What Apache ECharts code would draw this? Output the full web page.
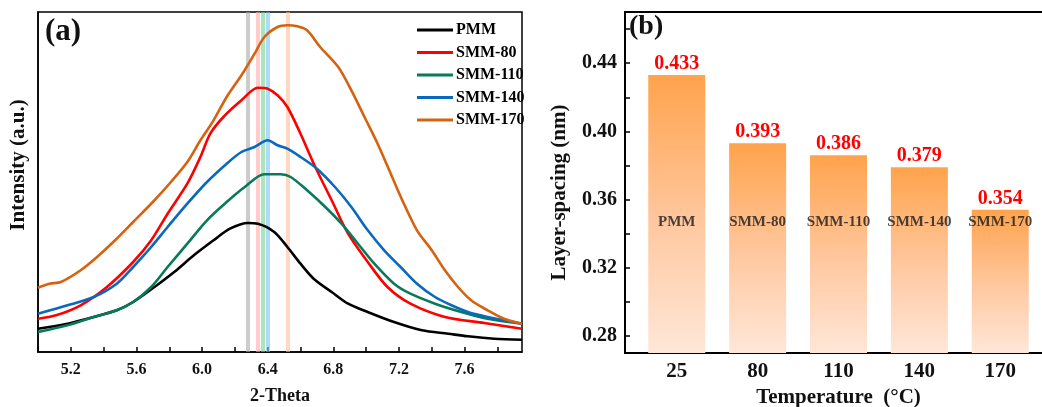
<!DOCTYPE html>
<html>
<head>
<meta charset="utf-8">
<script src="https://cdn.jsdelivr.net/npm/echarts@6/dist/echarts.min.js"></script>
<style>
  html, body { margin: 0; padding: 0; background: #fff; }
  #chart { width: 1042px; height: 407px; }
</style>
</head>
<body>
<div id="chart"></div>
<script>
// ---- (a) XRD patterns: [2-Theta, intensity (a.u.)] ----
const seriesNames = ['PMM', 'SMM-80', 'SMM-110', 'SMM-140', 'SMM-170'];
const pmm = [[5.00,23.3],[5.18,28.3],[5.34,35],[5.48,41.7],[5.58,50],[5.71,65],[5.83,80],[5.95,96.7],[6.07,111.7],[6.17,123.3],[6.28,129],[6.34,128.3],[6.44,120],[6.52,105],[6.60,88.3],[6.68,73.3],[6.79,60],[6.89,48.3],[7.01,40],[7.17,30],[7.34,21.7],[7.50,18.3],[7.62,15.7],[7.78,13.3],[7.95,12.3]];
const smm80 = [[5.00,33.3],[5.11,36.7],[5.26,46.7],[5.42,65],[5.58,90],[5.69,111.7],[5.79,138.3],[5.91,168.3],[5.99,195],[6.05,218.3],[6.13,235],[6.24,251.7],[6.34,264.3],[6.40,263.3],[6.46,256.7],[6.52,245],[6.60,218.3],[6.69,185],[6.79,151.7],[6.89,118.3],[7.01,90],[7.13,65],[7.27,48.3],[7.48,35],[7.72,29],[7.95,23.3]];
const smm110 = [[5.00,20],[5.18,26.7],[5.34,35],[5.48,41.7],[5.58,50],[5.69,65],[5.79,85],[5.91,108.3],[6.03,131.7],[6.15,150],[6.26,165],[6.38,177.7],[6.48,177.7],[6.54,175],[6.64,161.7],[6.74,146.7],[6.85,128.3],[6.95,108.3],[7.05,88.3],[7.17,68.3],[7.27,58.3],[7.42,48.3],[7.58,40],[7.74,33.3],[7.95,28.3]];
const smm140 = [[5.00,38.3],[5.18,46.7],[5.34,55],[5.48,68.3],[5.58,85],[5.69,105],[5.79,125],[5.91,148.3],[6.03,170],[6.15,188.3],[6.24,200],[6.32,205],[6.40,211.7],[6.46,206.7],[6.52,203.3],[6.60,195],[6.70,183.3],[6.81,165],[6.91,145],[7.01,121.7],[7.11,101.7],[7.21,85],[7.31,68.3],[7.42,55],[7.52,46.7],[7.62,40],[7.74,35],[7.95,28.3]];
const smm170 = [[5.00,64.3],[5.07,68.3],[5.14,70],[5.26,81.7],[5.36,95],[5.47,111.7],[5.58,130],[5.70,150],[5.81,170],[5.91,190],[5.99,211.7],[6.07,231.7],[6.15,255],[6.24,276.7],[6.32,298.3],[6.38,315],[6.46,325],[6.52,326.7],[6.58,325.7],[6.64,321.7],[6.72,305],[6.83,285],[6.91,261.7],[6.99,235],[7.07,208.3],[7.15,178.3],[7.23,148.3],[7.31,121.7],[7.40,101.7],[7.48,81.7],[7.56,65],[7.64,51.7],[7.74,41.7],[7.84,33.3],[7.95,28.3]];
// peak positions marked by the vertical bands
const peakPositions = [6.28, 6.34, 6.37, 6.40, 6.52];
const thetaLabels = [5.2, 5.6, 6.0, 6.4, 6.8, 7.2, 7.6];
const thetaTicks = [5.0, 5.2, 5.4, 5.6, 5.8, 6.0, 6.2, 6.4, 6.6, 6.8, 7.0, 7.2, 7.4, 7.6, 7.8];

// ---- (b) layer spacing vs. treatment temperature ----
const temperatures = ['25', '80', '110', '140', '170'];
const sampleNames = ['PMM', 'SMM-80', 'SMM-110', 'SMM-140', 'SMM-170'];
const layerSpacing = [0.433, 0.393, 0.386, 0.379, 0.354];
const spacingLabels = [0.28, 0.32, 0.36, 0.40, 0.44];
const spacingTicks = [0.28, 0.30, 0.32, 0.34, 0.36, 0.38, 0.40, 0.42, 0.44, 0.46];
const sampleNameLevel = 0.347;

const curveColors = ['#000000', '#FF0000', '#08795A', '#0A68BF', '#D6620F'];
const bandColors = ['rgba(170,170,170,0.6)', 'rgba(255,170,170,0.6)', 'rgba(120,210,140,0.6)', 'rgba(120,195,245,0.6)', 'rgba(255,190,150,0.6)'];
const curves = [pmm, smm80, smm110, smm140, smm170];
const FONT = '"Liberation Serif", "Times New Roman", serif';

const chart = echarts.init(document.getElementById('chart'), null, { renderer: 'canvas' });

const lineSeries = curves.map((d, i) => ({
  name: seriesNames[i],
  type: 'line',
  xAxisIndex: 0,
  yAxisIndex: 0,
  data: d,
  smooth: 0.3,
  symbol: 'none',
  z: 5,
  lineStyle: { color: curveColors[i], width: 2.6 },
  itemStyle: { color: curveColors[i] }
}));

const option = {
  animation: false,
  backgroundColor: '#ffffff',
  textStyle: { fontFamily: FONT },
  grid: [
    { left: 38, top: 12, width: 484, height: 340, containLabel: false, outerBoundsMode: 'none', show: true, borderColor: '#000', borderWidth: 1.5, backgroundColor: 'transparent' },
    { left: 625, top: 12, width: 427, height: 341, containLabel: false, outerBoundsMode: 'none', show: true, borderColor: '#000', borderWidth: 2, backgroundColor: 'transparent' }
  ],
  legend: {
    data: seriesNames,
    orient: 'vertical',
    left: 417,
    top: 22,
    padding: 0,
    icon: 'rect',
    itemWidth: 36,
    itemHeight: 3,
    itemGap: 6.5,
    textStyle: { fontFamily: FONT, fontWeight: 'bold', fontSize: 16, color: '#000', lineHeight: 16, padding: [0, 0, 0, -2] }
  },
  xAxis: [
    {
      gridIndex: 0, type: 'value', min: 5.0, max: 7.95,
      axisLine: { show: true, lineStyle: { color: '#000', width: 1.5 } },
      axisTick: { show: true, inside: true, length: 5, customValues: thetaTicks, lineStyle: { color: '#000', width: 1.5 } },
      axisLabel: { customValues: thetaLabels, formatter: v => v.toFixed(1), fontFamily: FONT, fontWeight: 'bold', fontSize: 16, color: '#111', margin: 10 },
      splitLine: { show: false },
      name: '2-Theta', nameLocation: 'middle', nameGap: 35,
      nameTextStyle: { fontFamily: FONT, fontWeight: 'bold', fontSize: 18, color: '#111' }
    },
    {
      gridIndex: 1, type: 'value', min: -0.64, max: 4.64,
      axisLine: { show: true, onZero: false, lineStyle: { color: '#000', width: 2 } },
      axisTick: { show: false },
      axisLabel: { customValues: [0, 1, 2, 3, 4], formatter: v => temperatures[Math.round(v)], fontFamily: FONT, fontWeight: 'bold', fontSize: 21, color: '#111', margin: 8 },
      splitLine: { show: false },
      name: 'Temperature  (°C)', nameLocation: 'middle', nameGap: 33,
      nameTextStyle: { fontFamily: FONT, fontWeight: 'bold', fontSize: 21, color: '#111' }
    }
  ],
  yAxis: [
    {
      gridIndex: 0, type: 'value', min: 0, max: 340,
      axisLine: { show: true, onZero: false, lineStyle: { color: '#000', width: 1.5 } },
      axisTick: { show: false }, axisLabel: { show: false }, splitLine: { show: false },
      name: 'Intensity (a.u.)', nameLocation: 'middle', nameRotate: 90, nameGap: 9,
      nameTextStyle: { fontFamily: FONT, fontWeight: 'bold', fontSize: 21, color: '#111', padding: [0, 0, 0, 34] }
    },
    {
      gridIndex: 1, type: 'value', min: 0.27, max: 0.47,
      axisLine: { show: true, onZero: false, lineStyle: { color: '#000', width: 2 } },
      axisTick: { show: true, inside: true, length: 5, customValues: spacingTicks, lineStyle: { color: '#000', width: 1.5 } },
      axisLabel: { customValues: spacingLabels, formatter: v => v.toFixed(2), fontFamily: FONT, fontWeight: 'bold', fontSize: 20, color: '#111', margin: 8 },
      splitLine: { show: false },
      name: 'Layer-spacing (nm)', nameLocation: 'middle', nameRotate: 90, nameGap: 55,
      nameTextStyle: { fontFamily: FONT, fontWeight: 'bold', fontSize: 21, color: '#111', padding: [0, 20, 0, 0] }
    }
  ],
  graphic: [
    { type: 'text', left: 45, top: 16, style: { text: '(a)', fontFamily: FONT, fontWeight: 'bold', fontSize: 31, fill: '#111' } },
    { type: 'text', left: 629, top: 13, z: 100, style: { text: '(b)', fontFamily: FONT, fontWeight: 'bold', fontSize: 28, fill: '#111' } }
  ],
  series: [
    {
      name: 'peaks',
      type: 'line',
      xAxisIndex: 0, yAxisIndex: 0,
      data: [],
      z: 1,
      markLine: {
        silent: true,
        symbol: 'none',
        label: { show: false },
        data: peakPositions.map((p, i) => ({ xAxis: p, lineStyle: { color: bandColors[i], width: 4, type: 'solid' } }))
      }
    },
    ...lineSeries,
    {
      name: 'spacing',
      type: 'bar',
      xAxisIndex: 1, yAxisIndex: 1,
      barWidth: 57,
      data: layerSpacing.map((v, i) => [i, v]),
      itemStyle: {
        color: new echarts.graphic.LinearGradient(0, 0, 0, 1, [
          { offset: 0, color: '#FFA34C' },
          { offset: 0.55, color: '#FFC9A2' },
          { offset: 1, color: '#FFE7D8' }
        ])
      },
      label: {
        show: true, position: 'top', distance: 1,
        formatter: p => p.value[1].toFixed(3),
        fontFamily: FONT, fontWeight: 'bold', fontSize: 20, color: '#FF0000'
      }
    },
    {
      name: 'sample names',
      type: 'scatter',
      xAxisIndex: 1, yAxisIndex: 1,
      symbolSize: 0,
      z: 10,
      data: sampleNames.map((n, i) => [i, sampleNameLevel]),
      label: {
        show: true, position: 'inside',
        formatter: p => sampleNames[p.dataIndex],
        fontFamily: FONT, fontWeight: 'bold', fontSize: 15, color: '#1a1a1a'
      }
    }
  ]
};

chart.setOption(option);
</script>
</body>
</html>
